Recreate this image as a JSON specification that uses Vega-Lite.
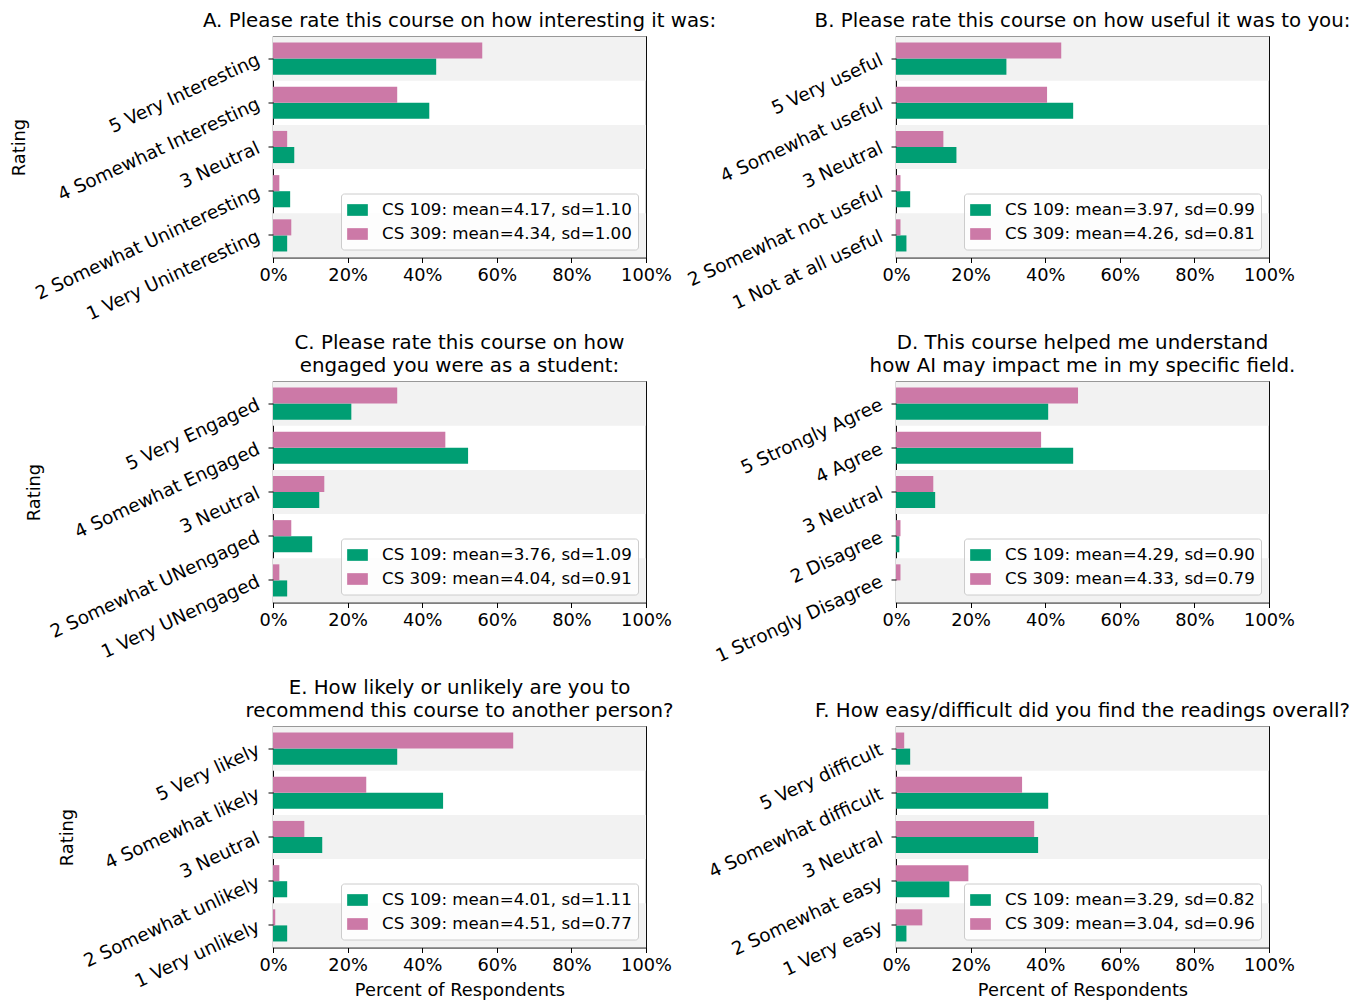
{
  "$schema": "https://vega.github.io/schema/vega-lite/v6.json",
  "background": "white",
  "padding": {"left": 9, "top": 9.5, "right": 5, "bottom": 5},
  "bounds": "flush",
  "columns": 2,
  "spacing": {"row": 124, "column": 250},
  "data": {"values": [
    {"panel": "A", "rating": 5, "label": "5 Very Interesting", "course": "CS 109", "legend": "CS 109: mean=4.17, sd=1.10", "pct": 43.75},
    {"panel": "A", "rating": 4, "label": "4 Somewhat Interesting", "course": "CS 109", "legend": "CS 109: mean=4.17, sd=1.10", "pct": 41.9},
    {"panel": "A", "rating": 3, "label": "3 Neutral", "course": "CS 109", "legend": "CS 109: mean=4.17, sd=1.10", "pct": 5.7},
    {"panel": "A", "rating": 2, "label": "2 Somewhat Uninteresting", "course": "CS 109", "legend": "CS 109: mean=4.17, sd=1.10", "pct": 4.6},
    {"panel": "A", "rating": 1, "label": "1 Very Uninteresting", "course": "CS 109", "legend": "CS 109: mean=4.17, sd=1.10", "pct": 3.8},
    {"panel": "A", "rating": 5, "label": "5 Very Interesting", "course": "CS 309", "legend": "CS 309: mean=4.34, sd=1.00", "pct": 56.1},
    {"panel": "A", "rating": 4, "label": "4 Somewhat Interesting", "course": "CS 309", "legend": "CS 309: mean=4.34, sd=1.00", "pct": 33.3},
    {"panel": "A", "rating": 3, "label": "3 Neutral", "course": "CS 309", "legend": "CS 309: mean=4.34, sd=1.00", "pct": 3.8},
    {"panel": "A", "rating": 2, "label": "2 Somewhat Uninteresting", "course": "CS 309", "legend": "CS 309: mean=4.34, sd=1.00", "pct": 1.7},
    {"panel": "A", "rating": 1, "label": "1 Very Uninteresting", "course": "CS 309", "legend": "CS 309: mean=4.34, sd=1.00", "pct": 4.9},

    {"panel": "B", "rating": 5, "label": "5 Very useful", "course": "CS 109", "legend": "CS 109: mean=3.97, sd=0.99", "pct": 29.6},
    {"panel": "B", "rating": 4, "label": "4 Somewhat useful", "course": "CS 109", "legend": "CS 109: mean=3.97, sd=0.99", "pct": 47.5},
    {"panel": "B", "rating": 3, "label": "3 Neutral", "course": "CS 109", "legend": "CS 109: mean=3.97, sd=0.99", "pct": 16.2},
    {"panel": "B", "rating": 2, "label": "2 Somewhat not useful", "course": "CS 109", "legend": "CS 109: mean=3.97, sd=0.99", "pct": 3.8},
    {"panel": "B", "rating": 1, "label": "1 Not at all useful", "course": "CS 109", "legend": "CS 109: mean=3.97, sd=0.99", "pct": 2.8},
    {"panel": "B", "rating": 5, "label": "5 Very useful", "course": "CS 309", "legend": "CS 309: mean=4.26, sd=0.81", "pct": 44.3},
    {"panel": "B", "rating": 4, "label": "4 Somewhat useful", "course": "CS 309", "legend": "CS 309: mean=4.26, sd=0.81", "pct": 40.5},
    {"panel": "B", "rating": 3, "label": "3 Neutral", "course": "CS 309", "legend": "CS 309: mean=4.26, sd=0.81", "pct": 12.7},
    {"panel": "B", "rating": 2, "label": "2 Somewhat not useful", "course": "CS 309", "legend": "CS 309: mean=4.26, sd=0.81", "pct": 1.2},
    {"panel": "B", "rating": 1, "label": "1 Not at all useful", "course": "CS 309", "legend": "CS 309: mean=4.26, sd=0.81", "pct": 1.2},

    {"panel": "C", "rating": 5, "label": "5 Very Engaged", "course": "CS 109", "legend": "CS 109: mean=3.76, sd=1.09", "pct": 21.0},
    {"panel": "C", "rating": 4, "label": "4 Somewhat Engaged", "course": "CS 109", "legend": "CS 109: mean=3.76, sd=1.09", "pct": 52.3},
    {"panel": "C", "rating": 3, "label": "3 Neutral", "course": "CS 109", "legend": "CS 109: mean=3.76, sd=1.09", "pct": 12.4},
    {"panel": "C", "rating": 2, "label": "2 Somewhat UNengaged", "course": "CS 109", "legend": "CS 109: mean=3.76, sd=1.09", "pct": 10.5},
    {"panel": "C", "rating": 1, "label": "1 Very UNengaged", "course": "CS 109", "legend": "CS 109: mean=3.76, sd=1.09", "pct": 3.8},
    {"panel": "C", "rating": 5, "label": "5 Very Engaged", "course": "CS 309", "legend": "CS 309: mean=4.04, sd=0.91", "pct": 33.3},
    {"panel": "C", "rating": 4, "label": "4 Somewhat Engaged", "course": "CS 309", "legend": "CS 309: mean=4.04, sd=0.91", "pct": 46.2},
    {"panel": "C", "rating": 3, "label": "3 Neutral", "course": "CS 309", "legend": "CS 309: mean=4.04, sd=0.91", "pct": 13.75},
    {"panel": "C", "rating": 2, "label": "2 Somewhat UNengaged", "course": "CS 309", "legend": "CS 309: mean=4.04, sd=0.91", "pct": 4.9},
    {"panel": "C", "rating": 1, "label": "1 Very UNengaged", "course": "CS 309", "legend": "CS 309: mean=4.04, sd=0.91", "pct": 1.7},

    {"panel": "D", "rating": 5, "label": "5 Strongly Agree", "course": "CS 109", "legend": "CS 109: mean=4.29, sd=0.90", "pct": 40.8},
    {"panel": "D", "rating": 4, "label": "4 Agree", "course": "CS 109", "legend": "CS 109: mean=4.29, sd=0.90", "pct": 47.5},
    {"panel": "D", "rating": 3, "label": "3 Neutral", "course": "CS 109", "legend": "CS 109: mean=4.29, sd=0.90", "pct": 10.5},
    {"panel": "D", "rating": 2, "label": "2 Disagree", "course": "CS 109", "legend": "CS 109: mean=4.29, sd=0.90", "pct": 0.9},
    {"panel": "D", "rating": 1, "label": "1 Strongly Disagree", "course": "CS 109", "legend": "CS 109: mean=4.29, sd=0.90", "pct": 0},
    {"panel": "D", "rating": 5, "label": "5 Strongly Agree", "course": "CS 309", "legend": "CS 309: mean=4.33, sd=0.79", "pct": 48.8},
    {"panel": "D", "rating": 4, "label": "4 Agree", "course": "CS 309", "legend": "CS 309: mean=4.33, sd=0.79", "pct": 38.9},
    {"panel": "D", "rating": 3, "label": "3 Neutral", "course": "CS 309", "legend": "CS 309: mean=4.33, sd=0.79", "pct": 10.0},
    {"panel": "D", "rating": 2, "label": "2 Disagree", "course": "CS 309", "legend": "CS 309: mean=4.33, sd=0.79", "pct": 1.2},
    {"panel": "D", "rating": 1, "label": "1 Strongly Disagree", "course": "CS 309", "legend": "CS 309: mean=4.33, sd=0.79", "pct": 1.2},

    {"panel": "E", "rating": 5, "label": "5 Very likely", "course": "CS 109", "legend": "CS 109: mean=4.01, sd=1.11", "pct": 33.3},
    {"panel": "E", "rating": 4, "label": "4 Somewhat likely", "course": "CS 109", "legend": "CS 109: mean=4.01, sd=1.11", "pct": 45.6},
    {"panel": "E", "rating": 3, "label": "3 Neutral", "course": "CS 109", "legend": "CS 109: mean=4.01, sd=1.11", "pct": 13.2},
    {"panel": "E", "rating": 2, "label": "2 Somewhat unlikely", "course": "CS 109", "legend": "CS 109: mean=4.01, sd=1.11", "pct": 3.8},
    {"panel": "E", "rating": 1, "label": "1 Very unlikely", "course": "CS 109", "legend": "CS 109: mean=4.01, sd=1.11", "pct": 3.8},
    {"panel": "E", "rating": 5, "label": "5 Very likely", "course": "CS 309", "legend": "CS 309: mean=4.51, sd=0.77", "pct": 64.4},
    {"panel": "E", "rating": 4, "label": "4 Somewhat likely", "course": "CS 309", "legend": "CS 309: mean=4.51, sd=0.77", "pct": 25.0},
    {"panel": "E", "rating": 3, "label": "3 Neutral", "course": "CS 309", "legend": "CS 309: mean=4.51, sd=0.77", "pct": 8.4},
    {"panel": "E", "rating": 2, "label": "2 Somewhat unlikely", "course": "CS 309", "legend": "CS 309: mean=4.51, sd=0.77", "pct": 1.7},
    {"panel": "E", "rating": 1, "label": "1 Very unlikely", "course": "CS 309", "legend": "CS 309: mean=4.51, sd=0.77", "pct": 0.6},

    {"panel": "F", "rating": 5, "label": "5 Very difficult", "course": "CS 109", "legend": "CS 109: mean=3.29, sd=0.82", "pct": 3.8},
    {"panel": "F", "rating": 4, "label": "4 Somewhat difficult", "course": "CS 109", "legend": "CS 109: mean=3.29, sd=0.82", "pct": 40.8},
    {"panel": "F", "rating": 3, "label": "3 Neutral", "course": "CS 109", "legend": "CS 109: mean=3.29, sd=0.82", "pct": 38.1},
    {"panel": "F", "rating": 2, "label": "2 Somewhat easy", "course": "CS 109", "legend": "CS 109: mean=3.29, sd=0.82", "pct": 14.3},
    {"panel": "F", "rating": 1, "label": "1 Very easy", "course": "CS 109", "legend": "CS 109: mean=3.29, sd=0.82", "pct": 2.8},
    {"panel": "F", "rating": 5, "label": "5 Very difficult", "course": "CS 309", "legend": "CS 309: mean=3.04, sd=0.96", "pct": 2.2},
    {"panel": "F", "rating": 4, "label": "4 Somewhat difficult", "course": "CS 309", "legend": "CS 309: mean=3.04, sd=0.96", "pct": 33.8},
    {"panel": "F", "rating": 3, "label": "3 Neutral", "course": "CS 309", "legend": "CS 309: mean=3.04, sd=0.96", "pct": 37.05},
    {"panel": "F", "rating": 2, "label": "2 Somewhat easy", "course": "CS 309", "legend": "CS 309: mean=3.04, sd=0.96", "pct": 19.4},
    {"panel": "F", "rating": 1, "label": "1 Very easy", "course": "CS 309", "legend": "CS 309: mean=3.04, sd=0.96", "pct": 7.05}
  ]},
  "concat": [
    {
      "title": {"text": "A. Please rate this course on how interesting it was:"},
      "width": 373, "height": 221,
      "transform": [{"filter": "datum.panel == 'A'"}],
      "layer": [
        {"transform": [{"filter": "datum.course == 'CS 109' && datum.rating % 2 == 1"}],
         "mark": {"type": "rect", "color": "#f2f2f2"},
         "encoding": {
           "y": {"field": "label", "type": "nominal", "sort": "descending", "scale": {"paddingInner": 0, "paddingOuter": 0}, "axis": {"title": "Rating", "titleX": -254}},
           "x": {"datum": 0, "type": "quantitative", "scale": {"domain": [0, 100], "nice": false}, "axis": {"title": null, "values": [0, 20, 40, 60, 80, 100]}},
           "x2": {"datum": 100}
         }},
        {"mark": "bar",
         "encoding": {
           "y": {"field": "label", "type": "nominal", "sort": "descending"},
           "yOffset": {"field": "course", "type": "nominal", "sort": ["CS 309", "CS 109"], "scale": {"paddingInner": 0, "paddingOuter": 0.375}},
           "x": {"field": "pct", "type": "quantitative"},
           "color": {"field": "legend", "type": "nominal", "scale": {"range": ["#009E73", "#CC79A7"]}, "legend": {"title": null}}
         }}
      ]
    },
    {
      "title": {"text": "B. Please rate this course on how useful it was to you:"},
      "width": 373, "height": 221,
      "transform": [{"filter": "datum.panel == 'B'"}],
      "layer": [
        {"transform": [{"filter": "datum.course == 'CS 109' && datum.rating % 2 == 1"}],
         "mark": {"type": "rect", "color": "#f2f2f2"},
         "encoding": {
           "y": {"field": "label", "type": "nominal", "sort": "descending", "scale": {"paddingInner": 0, "paddingOuter": 0}, "axis": {"title": null}},
           "x": {"datum": 0, "type": "quantitative", "scale": {"domain": [0, 100], "nice": false}, "axis": {"title": null, "values": [0, 20, 40, 60, 80, 100]}},
           "x2": {"datum": 100}
         }},
        {"mark": "bar",
         "encoding": {
           "y": {"field": "label", "type": "nominal", "sort": "descending"},
           "yOffset": {"field": "course", "type": "nominal", "sort": ["CS 309", "CS 109"], "scale": {"paddingInner": 0, "paddingOuter": 0.375}},
           "x": {"field": "pct", "type": "quantitative"},
           "color": {"field": "legend", "type": "nominal", "scale": {"range": ["#009E73", "#CC79A7"]}, "legend": {"title": null}}
         }}
      ]
    },
    {
      "title": {"text": ["C. Please rate this course on how", " engaged you were as a student:"]},
      "width": 373, "height": 221,
      "transform": [{"filter": "datum.panel == 'C'"}],
      "layer": [
        {"transform": [{"filter": "datum.course == 'CS 109' && datum.rating % 2 == 1"}],
         "mark": {"type": "rect", "color": "#f2f2f2"},
         "encoding": {
           "y": {"field": "label", "type": "nominal", "sort": "descending", "scale": {"paddingInner": 0, "paddingOuter": 0}, "axis": {"title": "Rating", "titleX": -239}},
           "x": {"datum": 0, "type": "quantitative", "scale": {"domain": [0, 100], "nice": false}, "axis": {"title": null, "values": [0, 20, 40, 60, 80, 100]}},
           "x2": {"datum": 100}
         }},
        {"mark": "bar",
         "encoding": {
           "y": {"field": "label", "type": "nominal", "sort": "descending"},
           "yOffset": {"field": "course", "type": "nominal", "sort": ["CS 309", "CS 109"], "scale": {"paddingInner": 0, "paddingOuter": 0.375}},
           "x": {"field": "pct", "type": "quantitative"},
           "color": {"field": "legend", "type": "nominal", "scale": {"range": ["#009E73", "#CC79A7"]}, "legend": {"title": null}}
         }}
      ]
    },
    {
      "title": {"text": ["D. This course helped me understand", "how AI may impact me in my specific field."]},
      "width": 373, "height": 221,
      "transform": [{"filter": "datum.panel == 'D'"}],
      "layer": [
        {"transform": [{"filter": "datum.course == 'CS 109' && datum.rating % 2 == 1"}],
         "mark": {"type": "rect", "color": "#f2f2f2"},
         "encoding": {
           "y": {"field": "label", "type": "nominal", "sort": "descending", "scale": {"paddingInner": 0, "paddingOuter": 0}, "axis": {"title": null}},
           "x": {"datum": 0, "type": "quantitative", "scale": {"domain": [0, 100], "nice": false}, "axis": {"title": null, "values": [0, 20, 40, 60, 80, 100]}},
           "x2": {"datum": 100}
         }},
        {"mark": "bar",
         "encoding": {
           "y": {"field": "label", "type": "nominal", "sort": "descending"},
           "yOffset": {"field": "course", "type": "nominal", "sort": ["CS 309", "CS 109"], "scale": {"paddingInner": 0, "paddingOuter": 0.375}},
           "x": {"field": "pct", "type": "quantitative"},
           "color": {"field": "legend", "type": "nominal", "scale": {"range": ["#009E73", "#CC79A7"]}, "legend": {"title": null}}
         }}
      ]
    },
    {
      "title": {"text": ["E. How likely or unlikely are you to", "recommend this course to another person?"]},
      "width": 373, "height": 221,
      "transform": [{"filter": "datum.panel == 'E'"}],
      "layer": [
        {"transform": [{"filter": "datum.course == 'CS 109' && datum.rating % 2 == 1"}],
         "mark": {"type": "rect", "color": "#f2f2f2"},
         "encoding": {
           "y": {"field": "label", "type": "nominal", "sort": "descending", "scale": {"paddingInner": 0, "paddingOuter": 0}, "axis": {"title": "Rating", "titleX": -206}},
           "x": {"datum": 0, "type": "quantitative", "scale": {"domain": [0, 100], "nice": false}, "axis": {"title": "Percent of Respondents", "values": [0, 20, 40, 60, 80, 100]}},
           "x2": {"datum": 100}
         }},
        {"mark": "bar",
         "encoding": {
           "y": {"field": "label", "type": "nominal", "sort": "descending"},
           "yOffset": {"field": "course", "type": "nominal", "sort": ["CS 309", "CS 109"], "scale": {"paddingInner": 0, "paddingOuter": 0.375}},
           "x": {"field": "pct", "type": "quantitative"},
           "color": {"field": "legend", "type": "nominal", "scale": {"range": ["#009E73", "#CC79A7"]}, "legend": {"title": null}}
         }}
      ]
    },
    {
      "title": {"text": "F. How easy/difficult did you find the readings overall?"},
      "width": 373, "height": 221,
      "transform": [{"filter": "datum.panel == 'F'"}],
      "layer": [
        {"transform": [{"filter": "datum.course == 'CS 109' && datum.rating % 2 == 1"}],
         "mark": {"type": "rect", "color": "#f2f2f2"},
         "encoding": {
           "y": {"field": "label", "type": "nominal", "sort": "descending", "scale": {"paddingInner": 0, "paddingOuter": 0}, "axis": {"title": null}},
           "x": {"datum": 0, "type": "quantitative", "scale": {"domain": [0, 100], "nice": false}, "axis": {"title": "Percent of Respondents", "values": [0, 20, 40, 60, 80, 100]}},
           "x2": {"datum": 100}
         }},
        {"mark": "bar",
         "encoding": {
           "y": {"field": "label", "type": "nominal", "sort": "descending"},
           "yOffset": {"field": "course", "type": "nominal", "sort": ["CS 309", "CS 109"], "scale": {"paddingInner": 0, "paddingOuter": 0.375}},
           "x": {"field": "pct", "type": "quantitative"},
           "color": {"field": "legend", "type": "nominal", "scale": {"range": ["#009E73", "#CC79A7"]}, "legend": {"title": null}}
         }}
      ]
    }
  ],
  "resolve": {
    "scale": {"x": "independent", "y": "independent", "color": "independent", "yOffset": "independent"},
    "axis": {"x": "independent", "y": "independent"},
    "legend": {"color": "independent"}
  },
  "config": {
    "font": "DejaVu Sans",
    "view": {"stroke": "black", "strokeWidth": 1.1},
    "title": {"font": "DejaVu Sans", "fontSize": 19.8, "fontWeight": "normal", "color": "black", "anchor": "middle", "offset": 6, "lineHeight": 23},
    "axis": {
      "domain": false, "grid": false,
      "tickColor": "black", "tickSize": 5, "tickWidth": 1,
      "labelFont": "DejaVu Sans", "labelFontSize": 17.8, "labelColor": "black", "labelPadding": 4,
      "titleFont": "DejaVu Sans", "titleFontSize": 17.8, "titleFontWeight": "normal", "titleColor": "black", "titlePadding": 7
    },
    "axisX": {"labelExpr": "datum.value + '%'", "labelFlush": false, "labelOverlap": false},
    "axisY": {"labelAngle": -25, "labelAlign": "right", "labelBaseline": "middle", "labelLimit": 400, "labelPadding": 10, "labelFontSize": 18.4, "titleBaseline": "middle"},
    "legend": {
      "orient": "bottom-right", "offset": 8,
      "fillColor": "rgba(255,255,255,0.8)", "strokeColor": "#cccccc", "cornerRadius": 3, "padding": 6,
      "labelFont": "DejaVu Sans", "labelFontSize": 16.7, "labelColor": "black", "labelLimit": 400,
      "symbolType": "M-1,-0.565H1V0.565H-1Z", "symbolSize": 428, "symbolStrokeWidth": 0, "symbolOpacity": 1,
      "labelOffset": 14, "rowPadding": 4
    }
  }
}
